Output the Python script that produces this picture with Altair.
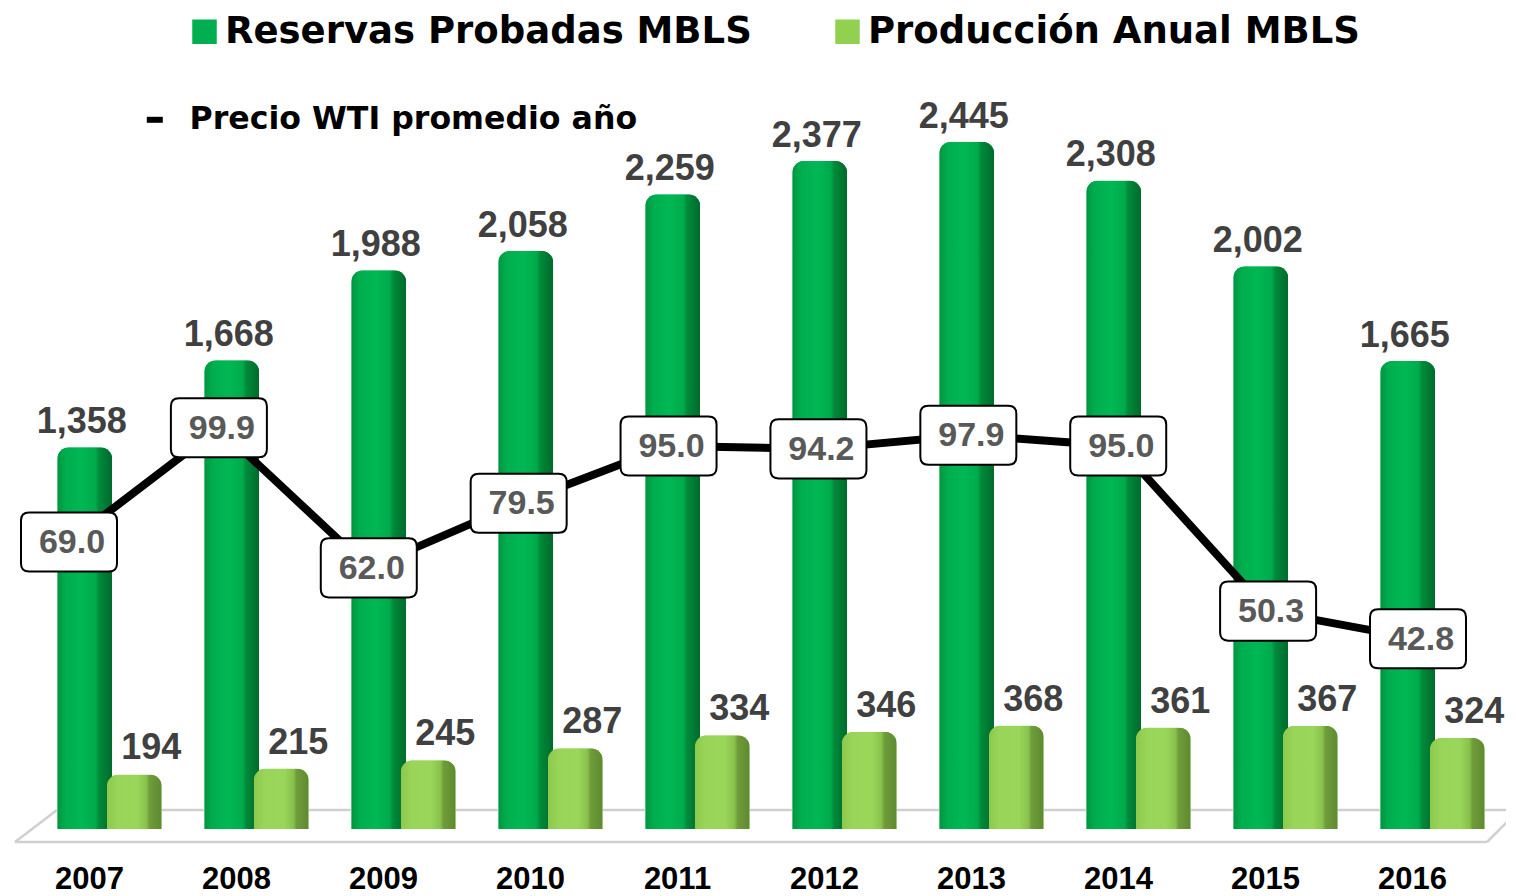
import altair as alt
import pandas as pd

years = ["2007", "2008", "2009", "2010", "2011", "2012", "2013", "2014", "2015", "2016"]
year_num = [2007, 2008, 2009, 2010, 2011, 2012, 2013, 2014, 2015, 2016]
reservas = [1358, 1668, 1988, 2058, 2259, 2377, 2445, 2308, 2002, 1665]
produccion = [194, 215, 245, 287, 334, 346, 368, 361, 367, 324]
wti = [69.0, 99.9, 62.0, 79.5, 95.0, 94.2, 97.9, 95.0, 50.3, 42.8]

S1 = "Reservas Probadas MBLS"
S2 = "Producción Anual MBLS"
S3 = "Precio WTI promedio año"
FONT = "Liberation Sans"
LEGFONT = "DejaVu Sans"

rows = []
for y, r, p in zip(years, reservas, produccion):
    rows.append({"year": y, "serie": S1, "value": r})
    rows.append({"year": y, "serie": S2, "value": p})
bars_df = pd.DataFrame(rows)
wti_df = pd.DataFrame({"year": year_num, "wti": wti})

W, H = 1470, 729

x_axis = alt.Axis(title=None, labelAngle=0, domain=False, ticks=False, grid=False,
                  labelFont=FONT, labelFontSize=31, labelFontWeight="bold",
                  labelColor="black", labelPadding=59, labelOffset=-20,
                  labelBaseline="alphabetic")
x_enc = alt.X("year:N", sort=years, scale=alt.Scale(paddingInner=0, paddingOuter=0), axis=x_axis)
xo_enc = alt.XOffset("serie:N", sort=[S1, S2],
                     scale=alt.Scale(domain=[S1, S2], paddingInner=0, paddingOuter=0.485))
y_enc = alt.Y("value:Q", scale=alt.Scale(domain=[0, 2594], nice=False, zero=True), axis=None)

base = alt.Chart(bars_df)

floor_df = pd.DataFrame({"k": [0]})
floor_style = dict(color="#d0d0d0", strokeWidth=2.5)
floor = alt.layer(
    alt.Chart(floor_df).mark_rule(**floor_style).encode(
        x=alt.value(-21), x2=alt.value(1451), y=alt.value(742), y2=alt.value(742)),
    alt.Chart(floor_df).mark_rule(**floor_style).encode(
        x=alt.value(21), x2=alt.value(1480), y=alt.value(710), y2=alt.value(710)),
    alt.Chart(floor_df).mark_rule(**floor_style).encode(
        x=alt.value(-21), x2=alt.value(21), y=alt.value(742), y2=alt.value(710)),
    alt.Chart(floor_df).mark_rule(**floor_style).encode(
        x=alt.value(1451), x2=alt.value(1480), y=alt.value(742), y2=alt.value(713)),
)

bars_base = base.mark_bar(size=55, cornerRadiusTopLeft=12, cornerRadiusTopRight=12).encode(
    x=x_enc,
    xOffset=xo_enc,
    y=y_enc,
    color=alt.Color("serie:N", sort=[S1, S2],
                    scale=alt.Scale(domain=[S1, S2], range=["#00b050", "#92d050"]),
                    legend=alt.Legend(title=None, orient="none", legendX=150, legendY=-87,
                                      direction="horizontal", symbolType="square",
                                      symbolSize=600, symbolStrokeWidth=0,
                                      labelFont=LEGFONT, labelFontSize=37, labelFontWeight="bold",
                                      labelColor="black", labelOffset=2, columnPadding=77,
                                      padding=0, labelLimit=800)),
)

grad_tall = alt.Gradient(
    gradient="linear", x1=0, x2=1, y1=0, y2=0,
    stops=[alt.GradientStop(offset=0, color="#00953f"),
           alt.GradientStop(offset=0.15, color="#00ad4e"),
           alt.GradientStop(offset=0.45, color="#00b853"),
           alt.GradientStop(offset=0.7, color="#00aa4b"),
           alt.GradientStop(offset=0.76, color="#008a3a"),
           alt.GradientStop(offset=1, color="#006a2c")])
grad_small = alt.Gradient(
    gradient="linear", x1=0, x2=1, y1=0, y2=0,
    stops=[alt.GradientStop(offset=0, color="#8cc84c"),
           alt.GradientStop(offset=0.2, color="#98d558"),
           alt.GradientStop(offset=0.55, color="#9ad65a"),
           alt.GradientStop(offset=0.72, color="#88c24c"),
           alt.GradientStop(offset=0.78, color="#6f9c3a"),
           alt.GradientStop(offset=1, color="#5e8a30")])

tall = base.transform_filter(alt.datum.serie == S1).mark_bar(
    size=55, cornerRadiusTopLeft=12, cornerRadiusTopRight=12, color=grad_tall
).encode(x=x_enc, xOffset=xo_enc, y=y_enc)
small = base.transform_filter(alt.datum.serie == S2).mark_bar(
    size=55, cornerRadiusTopLeft=12, cornerRadiusTopRight=12, color=grad_small
).encode(x=x_enc, xOffset=xo_enc, y=y_enc)

lab_style = dict(font=FONT, fontSize=36, fontWeight="bold", color="#404040",
                 baseline="alphabetic", align="center")
tall_lab = base.transform_filter(alt.datum.serie == S1).mark_text(dx=-3, dy=-14, **lab_style).encode(
    x=x_enc, xOffset=xo_enc, y=y_enc, text=alt.Text("value:Q", format=",.0f"))
small_lab = base.transform_filter(alt.datum.serie == S2).mark_text(dx=17, dy=-15, **lab_style).encode(
    x=x_enc, xOffset=xo_enc, y=y_enc, text=alt.Text("value:Q", format=",.0f"))

bars_group = alt.layer(bars_base, floor, tall, small, tall_lab, small_lab)

lx = alt.X("year:Q", scale=alt.Scale(domain=[2007, 2016], range=[33, 1382], nice=False, zero=False), axis=None)
ly = alt.Y("wti:Q", scale=alt.Scale(domain=[-8.66, 188.6], nice=False, zero=False), axis=None)

wbase = alt.Chart(wti_df)
line = wbase.mark_line(strokeWidth=8).encode(
    x=lx, y=ly,
    stroke=alt.Stroke("s:N", scale=alt.Scale(domain=[S3], range=["black"]),
                      legend=alt.Legend(title=None, orient="none", legendX=103, legendY=4,
                                        symbolType="stroke", symbolSize=256, symbolStrokeWidth=6,
                                        labelFont=LEGFONT, labelFontSize=31.6, labelFontWeight="bold",
                                        labelColor="black", labelOffset=19, padding=0,
                                        labelLimit=800))
).transform_calculate(s="'" + S3 + "'")

box_path = ("M -0.833 -0.615 L 0.833 -0.615 Q 1 -0.615 1 -0.448 L 1 0.448 "
            "Q 1 0.615 0.833 0.615 L -0.833 0.615 Q -1 0.615 -1 0.448 L -1 -0.448 "
            "Q -1 -0.615 -0.833 -0.615 Z")
boxes = wbase.mark_point(shape=box_path, size=9216, filled=True, fill="white",
                         stroke="black", strokeWidth=2, opacity=1).encode(x=lx, y=ly)
box_text = wbase.mark_text(font=FONT, fontSize=34, fontWeight="bold", color="#595959",
                           baseline="middle", align="center", dx=3, dy=1).encode(
    x=lx, y=ly, text=alt.Text("wti:Q", format=".1f"))

line_group = alt.layer(line, boxes, box_text)

chart = alt.layer(bars_group, line_group).resolve_scale(
    x="independent", y="independent"
).properties(
    width=W, height=H,
    autosize=alt.AutoSizeParams(type="none"),
    padding={"left": 28, "top": 92, "right": 0, "bottom": 67},
    background="white",
).configure_view(stroke=None)

chart.save("out.html", embed_options={"renderer": "svg", "actions": False})
